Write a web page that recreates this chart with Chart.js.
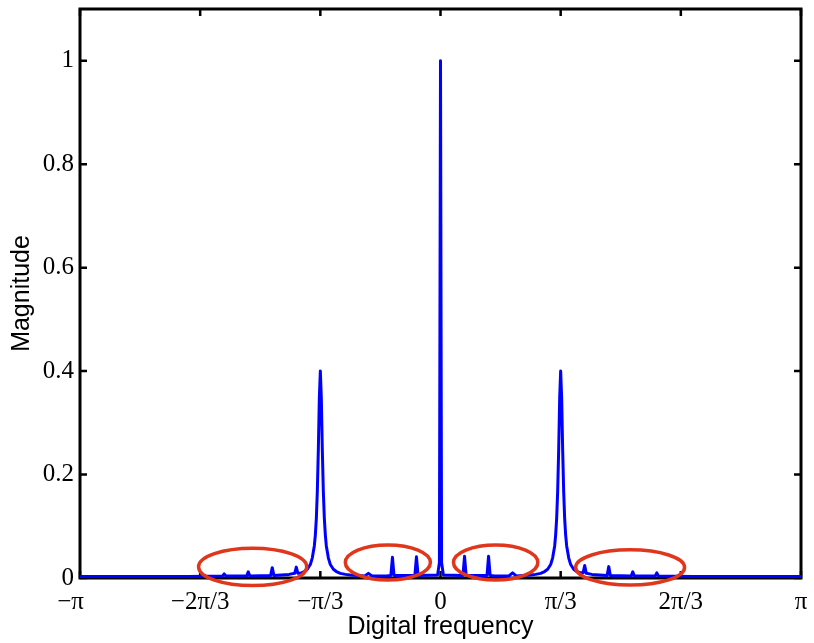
<!DOCTYPE html>
<html>
<head>
<meta charset="utf-8">
<script src="https://cdn.jsdelivr.net/npm/chart.js@4.4.1/dist/chart.umd.min.js"></script>
<style>
html,body{margin:0;padding:0;background:#fff;}
canvas{display:block;}
</style>
</head>
<body>
<canvas id="c" width="814" height="643"></canvas>
<script>
// Frequency in units of pi (x = -1 means -pi)
const freq = [
 -1.0, -0.7, -0.6044, -0.6, -0.5956, -0.5378, -0.5333, -0.5289, -0.4711, -0.4667, -0.4622,
 -0.42, -0.4044, -0.4, -0.3956, -0.3889, -0.3778, -0.3694, -0.3611, -0.3556, -0.35, -0.3472,
 -0.3444, -0.3417, -0.3389, -0.3361, -0.3333, -0.3306, -0.3278, -0.325, -0.3222, -0.3194,
 -0.3167, -0.3111, -0.3056, -0.2972, -0.2889, -0.2778, -0.2639, -0.25, -0.23, -0.21, -0.2,
 -0.19, -0.15, -0.1377, -0.1333, -0.129, -0.0711, -0.0667, -0.0622, -0.008, -0.003,
 0,
 0.003, 0.008, 0.0622, 0.0667, 0.0711, 0.129, 0.1333, 0.1377, 0.15, 0.19, 0.2, 0.21, 0.23,
 0.25, 0.2639, 0.2778, 0.2889, 0.2972, 0.3056, 0.3111, 0.3167, 0.3194, 0.3222, 0.325, 0.3278,
 0.3306, 0.3333, 0.3361, 0.3389, 0.3417, 0.3444, 0.3472, 0.35, 0.3556, 0.3611, 0.3694, 0.3778,
 0.3889, 0.3956, 0.4, 0.4044, 0.42, 0.4622, 0.4667, 0.4711, 0.5289, 0.5333, 0.5378, 0.5956,
 0.6, 0.6044, 0.7, 1.0
];
const magnitude = [
 0.003, 0.003, 0.004, 0.008, 0.004, 0.004, 0.012, 0.004, 0.005, 0.020, 0.005,
 0.007, 0.009, 0.021, 0.009, 0.009, 0.0125, 0.017, 0.026, 0.039, 0.062, 0.083,
 0.115, 0.167, 0.247, 0.348, 0.400, 0.348, 0.247, 0.167, 0.115, 0.083,
 0.062, 0.039, 0.026, 0.017, 0.0125, 0.009, 0.007, 0.006, 0.005, 0.004, 0.009,
 0.004, 0.004, 0.005, 0.040, 0.005, 0.005, 0.041, 0.005, 0.006, 0.03,
 1.0,
 0.03, 0.006, 0.005, 0.042, 0.005, 0.005, 0.042, 0.005, 0.004, 0.004, 0.010, 0.004, 0.005,
 0.006, 0.007, 0.009, 0.0125, 0.017, 0.026, 0.039, 0.062, 0.083, 0.115, 0.167, 0.247,
 0.348, 0.400, 0.348, 0.247, 0.167, 0.115, 0.083, 0.062, 0.039, 0.026, 0.017, 0.0125,
 0.010, 0.010, 0.024, 0.009, 0.007, 0.005, 0.022, 0.005, 0.004, 0.012, 0.004, 0.004,
 0.010, 0.004, 0.003, 0.003
];
const xTickValues = [-1, -2/3, -1/3, 0, 1/3, 2/3, 1];
const xTickLabels = ['\u2212\u03c0   ', '\u22122\u03c0/3', '\u2212\u03c0/3', '0', '\u03c0/3', '2\u03c0/3', '\u03c0'];
const yTickValues = [0, 0.2, 0.4, 0.6, 0.8, 1];
const yTickLabels = ['0', '0.2', '0.4', '0.6', '0.8', '1'];
// highlight ellipses (center x, center y, radius x, radius y) in data units
const ellipseCx = [-0.521, -0.146, 0.153, 0.526];
const ellipseCy = [0.0215, 0.030, 0.030, 0.0205];
const ellipseRx = [0.150, 0.118, 0.117, 0.151];
const ellipseRy = [0.036, 0.034, 0.034, 0.034];

const points = freq.map((f, i) => ({x: f, y: magnitude[i]}));

const boxPlugin = {
  id: 'box',
  beforeDatasetsDraw(chart) {
    const {ctx, chartArea: a, scales: {x, y}} = chart;
    ctx.save();
    ctx.strokeStyle = '#000';
    ctx.lineWidth = 2.5;
    const tl = 7;
    ctx.beginPath();
    xTickValues.forEach(v => {
      const px = x.getPixelForValue(v);
      ctx.moveTo(px, a.bottom); ctx.lineTo(px, a.bottom - tl);
      ctx.moveTo(px, a.top); ctx.lineTo(px, a.top + tl);
    });
    yTickValues.forEach(v => {
      const py = y.getPixelForValue(v);
      ctx.moveTo(a.left, py); ctx.lineTo(a.left + tl, py);
      ctx.moveTo(a.right, py); ctx.lineTo(a.right - tl, py);
    });
    ctx.stroke();
    ctx.lineWidth = 3;
    ctx.strokeRect(a.left, a.top, a.right - a.left, a.bottom - a.top);
    ctx.restore();
  },
  afterDatasetsDraw(chart) {
    const {ctx, scales: {x, y}} = chart;
    ctx.save();
    ctx.strokeStyle = '#e0361c';
    ctx.lineWidth = 3.5;
    ellipseCx.forEach((cx, i) => {
      const px = x.getPixelForValue(cx);
      const py = y.getPixelForValue(ellipseCy[i]);
      const rx = Math.abs(x.getPixelForValue(cx + ellipseRx[i]) - px);
      const ry = Math.abs(y.getPixelForValue(ellipseCy[i] + ellipseRy[i]) - py);
      ctx.beginPath();
      ctx.ellipse(px, py, rx, ry, 0, 0, Math.PI * 2);
      ctx.stroke();
    });
    ctx.restore();
  }
};

function zeroPad(s) {
  s.paddingLeft = 0; s.paddingRight = 0; s.paddingTop = 0; s.paddingBottom = 0;
}

new Chart(document.getElementById('c'), {
  type: 'line',
  data: {
    datasets: [{
      data: points,
      borderColor: '#0000ff',
      borderWidth: 3,
      pointRadius: 0,
      tension: 0,
      fill: false,
      clip: false,
      borderJoinStyle: 'round'
    }]
  },
  options: {
    responsive: false,
    animation: false,
    events: [],
    layout: {padding: {left: 0, right: 13, top: 9, bottom: 0}},
    plugins: {legend: {display: false}, tooltip: {enabled: false}},
    scales: {
      x: {
        type: 'linear',
        min: -1, max: 1,
        afterFit(s) { s.height = 65; zeroPad(s); },
        afterBuildTicks(s) { s.ticks = xTickValues.map(v => ({value: v})); },
        grid: {display: false, drawTicks: false},
        border: {display: false},
        ticks: {
          autoSkip: false, maxRotation: 0,
          padding: 9,
          color: '#000',
          font: {family: '"Liberation Serif", "Times New Roman", serif', size: 25},
          callback(v, i) { return xTickLabels[i]; }
        },
        title: {
          display: true, text: 'Digital frequency', color: '#000',
          font: {family: '"Liberation Sans", Arial, sans-serif', size: 25},
          padding: {top: 0, bottom: 1}
        }
      },
      y: {
        type: 'linear',
        min: 0, max: 1.1,
        afterFit(s) { s.width = 80; zeroPad(s); },
        afterBuildTicks(s) { s.ticks = yTickValues.map(v => ({value: v})); },
        grid: {display: false, drawTicks: false},
        border: {display: false},
        ticks: {
          padding: 6,
          color: '#000',
          font: {family: '"Liberation Serif", "Times New Roman", serif', size: 25},
          callback(v, i) { return yTickLabels[i]; }
        },
        title: {
          display: true, text: 'Magnitude', color: '#000',
          font: {family: '"Liberation Sans", Arial, sans-serif', size: 25},
          padding: {top: 7, bottom: 0}
        }
      }
    }
  },
  plugins: [boxPlugin]
});
</script>
</body>
</html>
